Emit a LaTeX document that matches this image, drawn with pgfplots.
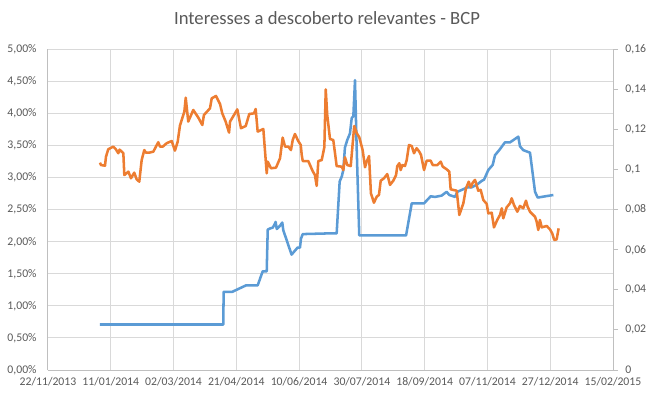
\documentclass[border=0pt]{standalone}
\usepackage{fontspec}
\setmainfont{Carlito}
\usepackage{pgfplots}
\pgfplotsset{compat=1.18}
\definecolor{cblue}{HTML}{5B9BD5}
\definecolor{corange}{HTML}{ED7D31}
\definecolor{cgrid}{HTML}{D9D9D9}
\definecolor{caxis}{HTML}{BFBFBF}
\definecolor{ctext}{HTML}{595959}
\begin{document}
\begin{tikzpicture}
\path[use as bounding box] (-36pt,-20.25pt) rectangle (454.5pt,277.5pt);
\begin{axis}[
  at={(0,0)}, anchor=south west,
  scale only axis, width=423.75pt, height=240.4pt,
  xmin=0, xmax=450, ymin=0, ymax=5,
  axis x line*=bottom, axis y line*=left,
  axis line style={caxis, line width=0.75pt},
  xtick={0,50,100,150,200,250,300,350,400,450},
  xticklabels={22/11/2013,11/01/2014,02/03/2014,21/04/2014,10/06/2014,30/07/2014,18/09/2014,07/11/2014,27/12/2014,15/02/2015},
  ytick={0,0.5,1,1.5,2,2.5,3,3.5,4,4.5,5},
  yticklabels={{0,00\%},{0,50\%},{1,00\%},{1,50\%},{2,00\%},{2,50\%},{3,00\%},{3,50\%},{4,00\%},{4,50\%},{5,00\%}},
  major tick length=0pt,
  xmajorgrids, ymajorgrids,
  grid style={cgrid, line width=0.75pt},
  tick label style={font=\fontsize{8.8}{10}\selectfont, text=ctext},
  xticklabel style={anchor=north, yshift=-2pt},
  yticklabel style={anchor=east, xshift=-5pt},
]
\addplot[cblue, line width=1.9pt, line join=round, no marks] table {
41.4 0.71
139.6 0.71
139.9 1.22
146.8 1.22
157.7 1.32
167.0 1.32
171.0 1.54
174.2 1.54
175.0 2.19
177.1 2.21
178.9 2.22
180.2 2.26
181.3 2.31
182.2 2.20
184.8 2.25
186.6 2.30
187.4 2.18
194.0 1.80
198.8 1.91
200.7 1.91
201.5 2.05
202.9 2.12
221.7 2.13
229.9 2.13
232.3 2.94
234.0 3.02
235.2 3.12
236.5 3.47
238.4 3.59
240.5 3.69
241.9 3.93
243.2 3.96
244.5 4.52
245.9 3.43
247.9 2.10
285.2 2.10
289.7 2.60
299.5 2.60
304.8 2.71
308.2 2.70
313.5 2.72
317.5 2.78
319.6 2.73
324.2 2.70
326.0 2.78
330.8 2.82
334.0 2.85
337.5 2.85
341.5 2.89
345.5 2.95
347.3 2.97
350.7 3.12
354.2 3.20
356.0 3.35
359.4 3.43
363.9 3.55
367.9 3.55
374.6 3.64
375.9 3.49
378.5 3.43
383.9 3.39
387.9 2.78
390.0 2.69
402.5 2.73
};
\end{axis}
\begin{axis}[
  at={(0,0)}, anchor=south west,
  scale only axis, width=423.75pt, height=240.4pt,
  xmin=0, xmax=450, ymin=0, ymax=0.16,
  axis x line=none, axis y line*=right,
  axis line style={caxis, line width=0.75pt},
  ytick={0,0.02,0.04,0.06,0.08,0.1,0.12,0.14,0.16},
  yticklabels={0,{0,02},{0,04},{0,06},{0,08},{0,1},{0,12},{0,14},{0,16}},
  tick align=outside, major tick length=3.75pt,
  ytick style={caxis, line width=0.75pt},
  tick label style={font=\fontsize{8.8}{10}\selectfont, text=ctext},
  yticklabel style={anchor=west, xshift=2pt},
]
\addplot[corange, line width=1.9pt, line join=round, no marks] table {
41.4 0.1035
42.2 0.1023
45.4 0.1020
46.2 0.1065
48.0 0.1102
52.0 0.1115
53.9 0.1103
56.0 0.1082
57.0 0.1100
60.0 0.1082
60.8 0.0973
64.0 0.0990
66.1 0.0957
68.7 0.0985
70.6 0.0952
72.7 0.0940
74.6 0.1048
76.7 0.1098
78.0 0.1085
80.7 0.1085
83.9 0.1090
87.8 0.1137
89.2 0.1115
91.4 0.1115
94.5 0.1132
98.5 0.1143
101.1 0.1095
103.3 0.1140
105.1 0.1220
108.6 0.1290
109.7 0.1359
111.7 0.1240
115.7 0.1298
119.7 0.1260
122.9 0.1223
124.2 0.1273
129.0 0.1306
130.4 0.1356
133.8 0.1368
137.0 0.1328
138.8 0.1281
141.5 0.1240
144.2 0.1185
145.0 0.1240
150.8 0.1301
152.4 0.1248
153.7 0.1207
157.5 0.1218
160.3 0.1278
164.1 0.1281
165.4 0.1303
167.0 0.1190
171.5 0.1203
174.2 0.0982
175.0 0.1040
177.6 0.1007
181.6 0.1010
184.8 0.1057
186.9 0.1160
188.8 0.1115
191.4 0.1115
193.5 0.1098
194.9 0.1148
196.7 0.1178
199.3 0.1143
201.3 0.1123
202.1 0.1073
202.9 0.1043
207.3 0.1043
208.7 0.1023
210.8 0.0993
212.6 0.0973
214.0 0.0919
215.3 0.1043
218.0 0.1048
220.1 0.1112
221.2 0.1401
222.4 0.1273
224.6 0.1153
227.2 0.1148
228.6 0.1082
229.9 0.1018
233.9 0.1015
235.2 0.0998
236.5 0.1062
238.4 0.1023
241.1 0.1018
243.9 0.1218
245.9 0.1182
247.9 0.1162
250.6 0.1098
252.5 0.1012
253.8 0.1040
255.7 0.1068
257.2 0.0882
259.6 0.0835
261.8 0.0865
263.6 0.0874
265.0 0.0945
267.6 0.0957
270.2 0.0978
272.4 0.0924
275.0 0.0945
277.2 0.0973
278.2 0.1018
279.8 0.1032
280.9 0.0998
282.2 0.1023
284.3 0.1018
285.7 0.1048
287.5 0.1123
289.7 0.1118
291.5 0.1082
293.6 0.1107
295.7 0.1090
297.1 0.1073
299.5 0.0998
301.6 0.1045
304.8 0.1045
306.4 0.1023
310.1 0.1023
312.8 0.1040
314.4 0.1015
317.5 0.1002
319.6 0.0990
320.7 0.0902
325.5 0.0895
327.6 0.0774
330.8 0.0832
332.9 0.0907
335.1 0.0940
336.7 0.0912
338.3 0.0935
340.1 0.0949
342.7 0.0895
344.6 0.0899
346.7 0.0849
349.4 0.0829
350.7 0.0782
353.4 0.0785
355.2 0.0712
357.8 0.0749
360.0 0.0774
361.4 0.0807
362.6 0.0757
365.3 0.0812
368.0 0.0832
369.3 0.0857
371.1 0.0824
373.8 0.0790
375.9 0.0819
378.5 0.0807
380.7 0.0845
382.0 0.0815
383.9 0.0790
387.9 0.0765
389.2 0.0740
390.5 0.0699
391.8 0.0749
393.2 0.0712
397.2 0.0719
399.8 0.0702
401.6 0.0682
403.2 0.0649
405.1 0.0652
406.7 0.0707
};
\end{axis}
\node[text=ctext, font=\fontsize{14}{16}\selectfont] at (209.25pt,264pt) {Interesses a descoberto relevantes - BCP};
\end{tikzpicture}
\end{document}
